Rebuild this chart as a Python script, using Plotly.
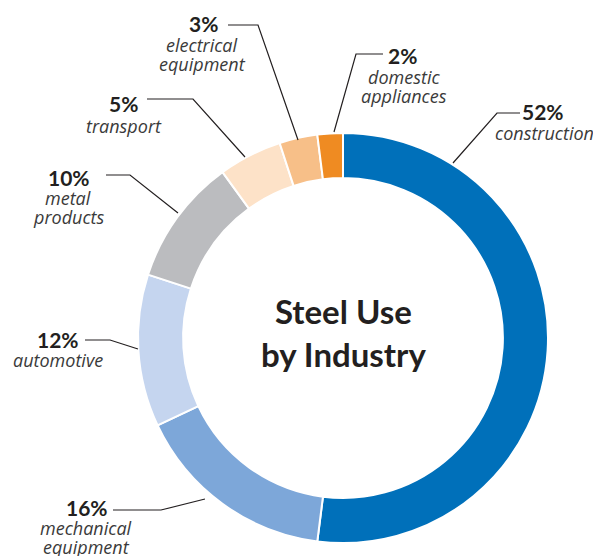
import plotly.graph_objects as go

# ---- data ----
industries = ["construction", "mechanical equipment", "automotive", "metal products",
              "transport", "electrical equipment", "domestic appliances"]
shares = [52, 16, 12, 10, 5, 3, 2]
colors = ["#0070BA", "#7DA7D9", "#C5D5EF", "#BBBCBF", "#FDE2C8", "#F7BF88", "#EF8B22"]
label_lines = [["construction"], ["mechanical", "equipment"], ["automotive"],
               ["metal", "products"], ["transport"], ["electrical", "equipment"],
               ["domestic", "appliances"]]

W, H = 593, 556
cx, cy, R = 343, 338, 205

fig = go.Figure(go.Pie(
    labels=industries, values=shares, sort=False, direction="clockwise", rotation=0,
    hole=0.78, marker=dict(colors=colors, line=dict(color="white", width=2)),
    textinfo="none", hoverinfo="label+percent", showlegend=False,
    domain=dict(x=[(cx - R) / W, (cx + R) / W], y=[1 - (cy + R) / H, 1 - (cy - R) / H]),
))

def px(x):
    return x / W

def py(y):
    return 1 - y / H

# label layout (pixel positions): pct center, first italic line center, leader path
layout_info = [
    ((543, 112), (544, 133), [(520, 113), (497, 113), (453, 163)]),
    ((87, 507), (86, 528), [(113, 510), (161, 510), (205, 499)]),
    ((58, 339), (58, 360), [(85, 340), (110, 340), (138, 349)]),
    ((69, 177), (68, 198), [(106, 175), (130, 175), (178, 213)]),
    ((123, 104), (124, 126), [(147, 99), (193, 99), (245, 157)]),
    ((203, 24), (202, 45), [(228, 25), (258, 25), (298, 140)]),
    ((402, 55), (404, 77), [(383, 54), (356, 54), (334, 132)]),
]

annotations = []
shapes = []
for share, lines, (pc, lc, path) in zip(shares, label_lines, layout_info):
    annotations.append(dict(
        x=px(pc[0]), y=py(pc[1]), xref="paper", yref="paper", showarrow=False,
        text=f"<b>{share}%</b>", xanchor="center", yanchor="middle",
        font=dict(family="Lato", size=21, color="#231F20")))
    for i, ln in enumerate(lines):
        annotations.append(dict(
            x=px(lc[0]), y=py(lc[1] + 19 * i), xref="paper", yref="paper", showarrow=False,
            text=f"<i>{ln}</i>", xanchor="center", yanchor="middle",
            font=dict(family="Open Sans", size=18, color="#3A3A3A")))
    d = "M " + " L ".join(f"{px(x)},{py(y)}" for x, y in path)
    shapes.append(dict(type="path", path=d, xref="paper", yref="paper",
                       line=dict(color="#231F20", width=1.2)))

annotations.append(dict(
    x=px(cx), y=py(332), xref="paper", yref="paper", showarrow=False,
    text="<b>Steel Use</b><br><b>by Industry</b>", xanchor="center", yanchor="middle",
    font=dict(family="Lato", size=33, color="#231F20"), align="center"))

fig.update_layout(
    width=W, height=H, margin=dict(l=0, r=0, t=0, b=0),
    paper_bgcolor="white", plot_bgcolor="white",
    annotations=annotations, shapes=shapes,
)

fig.write_html("out.html")
